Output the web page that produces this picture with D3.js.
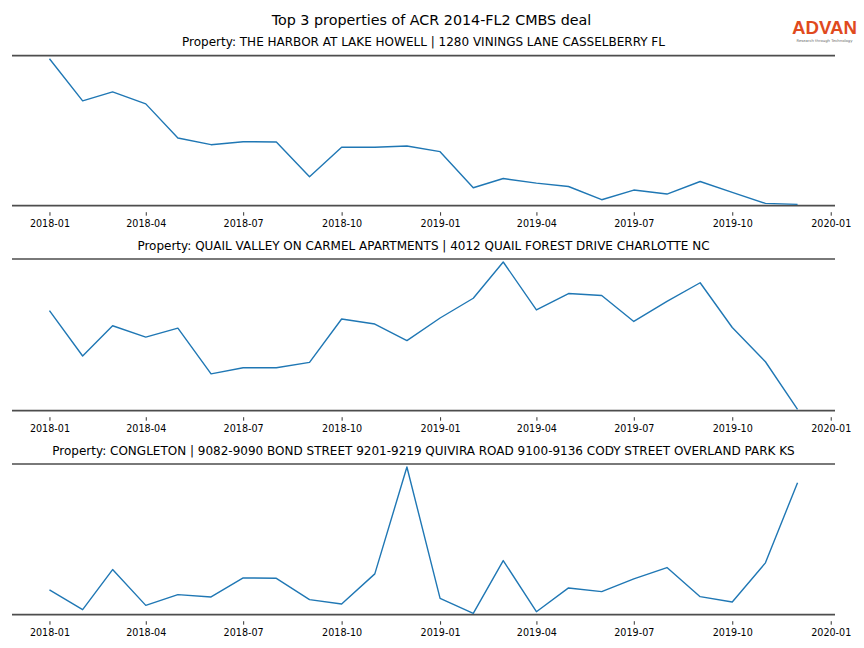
<!DOCTYPE html>
<html><head><meta charset="utf-8">
<script src="https://cdn.jsdelivr.net/npm/d3@7/dist/d3.min.js"></script>
<style>
body{margin:0;background:#fff;}
svg{display:block;}
text{font-family:"DejaVu Sans",sans-serif;fill:#000;}
</style></head>
<body><svg id="c" width="864" height="648"></svg>
<script>
const months = ["2018-01","2018-02","2018-03","2018-04","2018-05","2018-06","2018-07","2018-08","2018-09","2018-10","2018-11","2018-12",
                "2019-01","2019-02","2019-03","2019-04","2019-05","2019-06","2019-07","2019-08","2019-09","2019-10","2019-11","2019-12"];
const tickLabels = ["2018-01","2018-04","2018-07","2018-10","2019-01","2019-04","2019-07","2019-10","2020-01"];
const titles = [
  "Property: THE HARBOR AT LAKE HOWELL | 1280 VININGS LANE CASSELBERRY FL",
  "Property: QUAIL VALLEY ON CARMEL APARTMENTS | 4012 QUAIL FOREST DRIVE CHARLOTTE NC",
  "Property: CONGLETON | 9082-9090 BOND STREET 9201-9219 QUIVIRA ROAD 9100-9136 CODY STREET OVERLAND PARK KS"
];
const harbor = [1477,1053,1143,1023,680,613,643,640,290,587,587,600,543,180,273,227,193,60,157,117,243,133,23,13];
const quail  = [1000,550,850,737,827,373,433,433,487,917,867,703,927,1123,1483,1007,1170,1150,893,1093,1277,833,493,20];
const congleton = [257,60,460,103,210,187,377,373,160,117,417,1483,173,23,550,40,277,240,367,480,190,137,527,1327];
const seriesList = [harbor, quail, congleton];
const mainTitle = "Top 3 properties of ACR 2014-FL2 CMBS deal";

const svg = d3.select("#c");
const parse = d3.utcParse("%Y-%m");
const dates = months.map(parse);
const ticks = tickLabels.map(parse);

svg.append("text").attr("x",431.5).attr("y",24.5).attr("text-anchor","middle")
  .style("font-size","14.3px").text(mainTitle);

// logo
const logo = svg.append("g");
logo.append("text").attr("x",824.5).attr("y",34).attr("text-anchor","middle")
  .style("font-size","18px").style("font-weight","bold").style("font-family","'Liberation Sans',Arial,sans-serif")
  .style("fill","#e04a1e").attr("textLength",65).attr("lengthAdjust","spacingAndGlyphs").text("ADVAN");
logo.append("text").attr("x",824.5).attr("y",41.5).attr("text-anchor","middle")
  .style("font-size","3.8px").style("fill","#666").text("Research through Technology");

const x = d3.scaleUtc()
  .domain([d3.utcDay.offset(dates[0], -35), d3.utcDay.offset(dates[dates.length-1], 35)])
  .range([12, 835]);

const panels = [
  {top:55.7, bottom:205.7, titleY:46},
  {top:259, bottom:410.7, titleY:250},
  {top:464, bottom:614.7, titleY:454.5}
];

panels.forEach((p, i) => {
  const vals = seriesList[i];
  const y = d3.scaleLinear().domain(d3.extent(vals)).range([p.bottom - 1.3, p.top + 3]);
  const g = svg.append("g");
  g.append("text").attr("x",423.5).attr("y",p.titleY).attr("text-anchor","middle")
    .style("font-size","12px").text(titles[i]);
  [p.top, p.bottom].forEach(yy => g.append("line")
    .attr("x1",12).attr("x2",835).attr("y1",yy).attr("y2",yy)
    .attr("stroke","#4d4d4d").attr("stroke-width",1.7));
  const ax = d3.axisBottom(x).tickValues(ticks).tickFormat(d3.utcFormat("%Y-%m"))
    .tickSize(3.5).tickPadding(4);
  const axg = g.append("g").attr("transform",`translate(0,${p.bottom + 6.5})`).call(ax);
  axg.select(".domain").remove();
  axg.selectAll(".tick line").attr("stroke","#000").attr("stroke-width",0.8);
  axg.selectAll(".tick text").style("font-size","9.6px").style("font-family","'DejaVu Sans',sans-serif").attr("fill","#000");
  const line = d3.line().x((d,j) => x(dates[j])).y(d => y(d));
  g.append("path").datum(vals).attr("d", line).attr("fill","none")
    .attr("stroke","#1f77b4").attr("stroke-width",1.4).attr("stroke-linejoin","round");
});
</script></body></html>
